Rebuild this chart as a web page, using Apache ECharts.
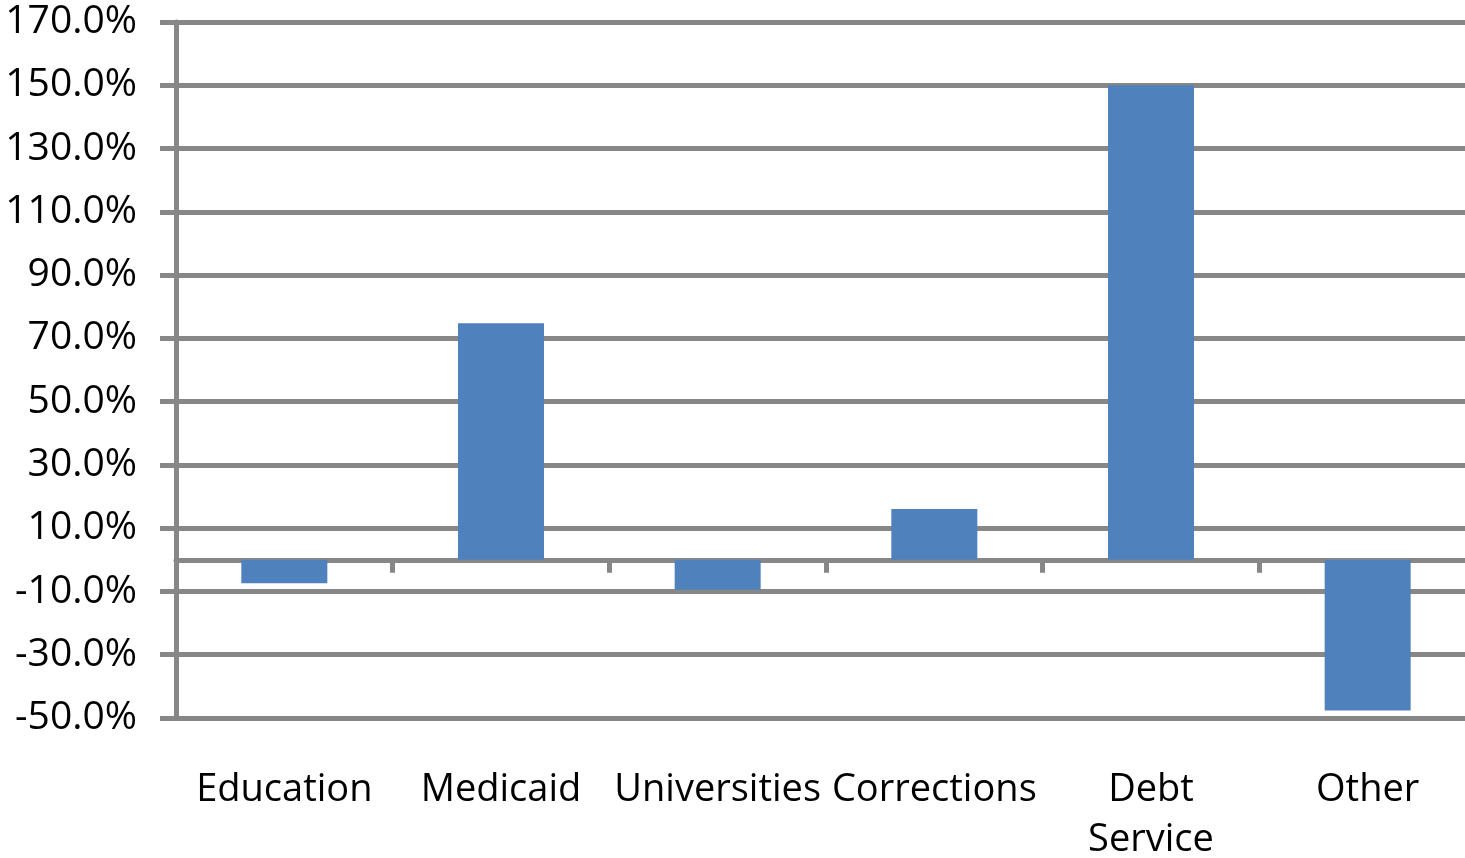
<!DOCTYPE html>
<html>
<head>
<meta charset="utf-8">
<script src="https://cdn.jsdelivr.net/npm/echarts@6/dist/echarts.min.js"></script>
<style>
  html, body { margin: 0; padding: 0; background: #fff; overflow: hidden; }
  #chart { width: 1465px; height: 858px; }
</style>
</head>
<body>
<div id="chart"></div>
<script>
const categories = ['Education', 'Medicaid', 'Universities', 'Corrections', 'Debt Service', 'Other'];
const changePct = [-7.4, 74.8, -9.5, 16.1, 150.0, -47.6];
const yMin = -50;
const yMax = 170;
const yStep = 20;

const gridColor = '#878787';
const fontFamily = '"Open Sans", "Liberation Sans", sans-serif';

const chart = echarts.init(document.getElementById('chart'), null, { renderer: 'canvas' });
chart.setOption({
  animation: false,
  backgroundColor: '#ffffff',
  grid: { left: 176, right: -11, top: 22, bottom: 140, containLabel: false, outerBoundsMode: 'none' },
  xAxis: [
    {
      type: 'category',
      data: categories,
      position: 'bottom',
      axisLine: { show: true, onZero: true, lineStyle: { color: gridColor, width: 5 } },
      axisTick: { show: true, inside: false, length: 13, alignWithLabel: false, lineStyle: { color: gridColor, width: 5 } },
      axisLabel: { show: false },
      splitLine: { show: false }
    },
    {
      type: 'category',
      data: categories,
      position: 'bottom',
      axisLine: { show: false, onZero: false },
      axisTick: { show: false },
      axisLabel: {
        show: true,
        interval: 0,
        margin: 47,
        color: '#000',
        fontSize: 38,
        lineHeight: 50,
        fontFamily: fontFamily,
        hideOverlap: false,
        formatter: v => v.replace(' ', '\n')
      },
      splitLine: { show: false }
    }
  ],
  yAxis: {
    type: 'value',
    min: yMin,
    max: yMax,
    interval: yStep,
    axisLine: { show: true, onZero: false, lineStyle: { color: gridColor, width: 5 } },
    axisTick: { show: true, inside: false, length: 16, lineStyle: { color: gridColor, width: 5 } },
    axisLabel: {
      margin: 39,
      color: '#000',
      fontSize: 39,
      fontFamily: fontFamily,
      formatter: v => v.toFixed(1) + '%'
    },
    splitLine: { show: true, lineStyle: { color: gridColor, width: 5 } }
  },
  series: [{
    type: 'bar',
    xAxisIndex: 0,
    data: changePct,
    barWidth: 86,
    itemStyle: { color: '#4F81BD' },
    z: 3
  }]
});
</script>
</body>
</html>
